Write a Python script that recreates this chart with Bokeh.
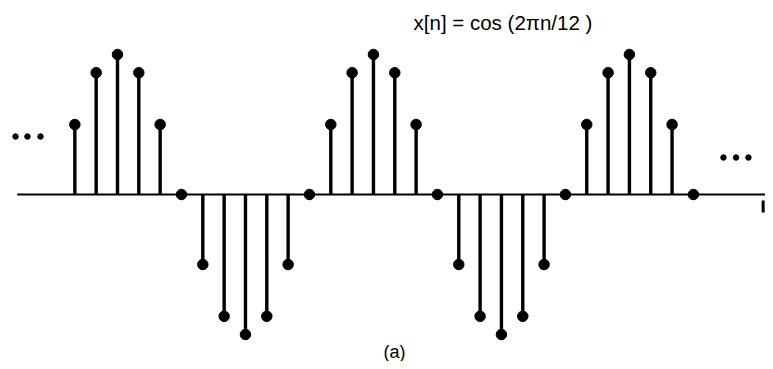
from bokeh.plotting import figure
from bokeh.models import Range1d
from bokeh.embed import file_html
from bokeh.resources import INLINE
from bokeh.core.properties import value

# sample index n and values x[n] = cos(2*pi*n/12)
n = list(range(-2, 28))
x_n = [0.5, 0.87, 1.0, 0.87, 0.5, 0.0, -0.5, -0.87, -1.0, -0.87, -0.5, 0.0,
       0.5, 0.87, 1.0, 0.87, 0.5, 0.0, -0.5, -0.87, -1.0, -0.87, -0.5, 0.0,
       0.5, 0.87, 1.0, 0.87, 0.5, 0.0]
title_text = "x[n] = cos (2\u03c0n/12 )"
caption_text = "(a)"

# px -> data: x = (px-117)/21.33, y = (194-py)/140
p = figure(width=765, height=361, output_backend="svg", toolbar_location=None,
           x_range=Range1d(-5.485, 30.38), y_range=Range1d(-1.193, 1.3857),
           min_border=0, min_border_left=0, min_border_right=0,
           min_border_top=0, min_border_bottom=0)
p.axis.visible = False
p.grid.visible = False
p.outline_line_color = None
p.background_fill_color = "white"
p.border_fill_color = "white"

# horizontal baseline (n axis)
p.segment(x0=[-4.7], y0=[0], x1=[31.0], y1=[0], line_width=2, line_color="black")
# small mark at the right end
p.segment(x0=[30.27], y0=[-0.043], x1=[30.27], y1=[-0.129], line_width=3, line_color="black")

# stems
p.segment(x0=n, y0=[0] * len(n), x1=n, y1=x_n, line_width=3.4, line_color="black")
p.scatter(n, x_n, size=10.5, fill_color="black", line_color="black")

# ellipses
p.scatter([-4.78, -4.22, -3.61], [0.414] * 3, size=5.5, fill_color="black", line_color="black")
p.scatter([28.41, 29.0, 29.58], [0.264] * 3, size=5.5, fill_color="black", line_color="black")

# title and caption
p.text(x=[13.88], y=[1.229], text=[title_text], text_font=value("Liberation Sans"),
       text_font_size="20.5px", text_align="left", text_baseline="middle", text_color="black")
p.text(x=[12.99], y=[-1.125], text=[caption_text], text_font=value("Liberation Sans"),
       text_font_size="18px", text_align="center", text_baseline="middle", text_color="black")

open("out.html", "w").write(file_html(p, INLINE))
